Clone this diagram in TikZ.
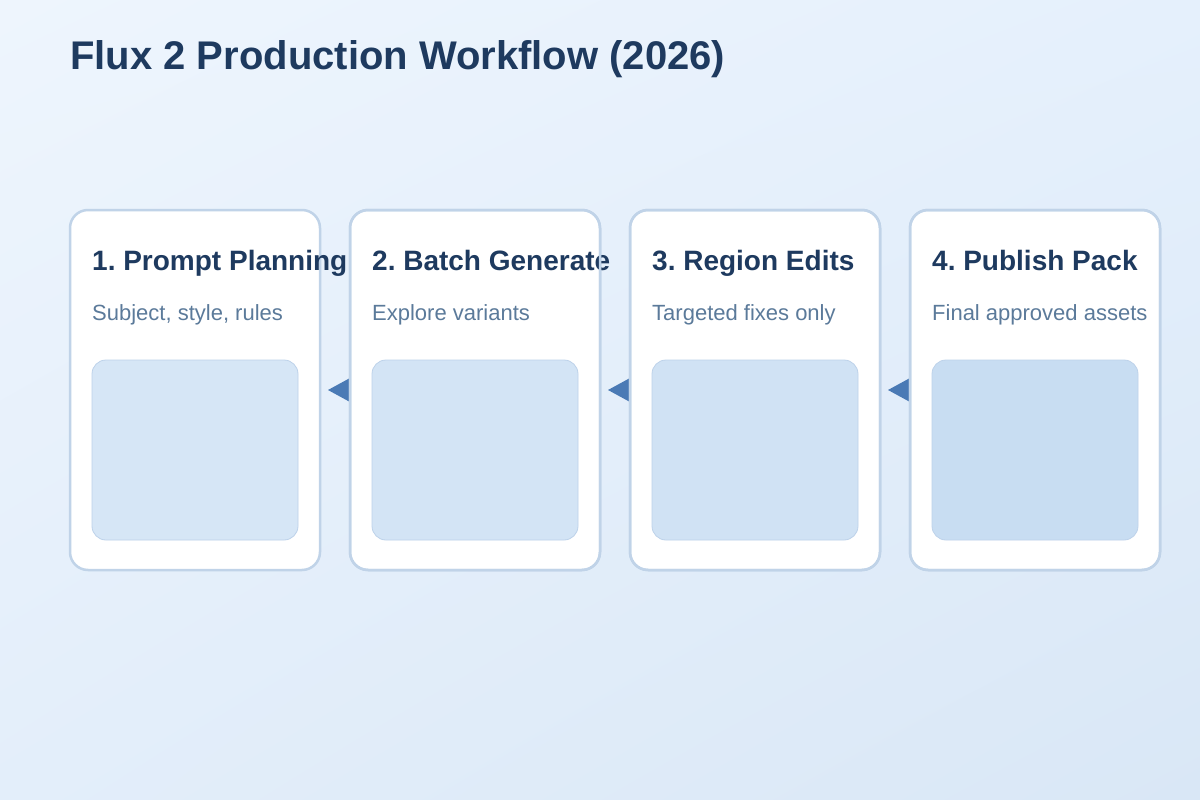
\documentclass[tikz,border=0pt]{standalone}
\usepackage{fontspec}
\setmainfont{Liberation Sans}
\frenchspacing
\usetikzlibrary{calc,shadings}
\definecolor{titlec}{HTML}{1E3A5F}
\definecolor{subc}{HTML}{5B7A9A}
\definecolor{cardbd}{HTML}{C0D3E8}
\definecolor{innerbd}{HTML}{BDD2EA}
\definecolor{innerA}{HTML}{D6E6F6}
\definecolor{innerB}{HTML}{D3E4F5}
\definecolor{innerC}{HTML}{D0E2F4}
\definecolor{innerD}{HTML}{C8DDF2}
\definecolor{arrowc}{HTML}{4A7AB5}
\definecolor{bgtl}{HTML}{EEF5FD}
\definecolor{bgtr}{HTML}{E5F0FC}
\definecolor{bgbl}{HTML}{E3EEFA}
\definecolor{bgbr}{HTML}{D9E7F6}
\tikzset{
  card/.style={draw=cardbd, line width=2.5pt, fill=white, rounded corners=18pt,
    minimum width=250pt, minimum height=360pt, inner sep=0pt, outer sep=0pt, anchor=north west},
  inner/.style={draw=innerbd, line width=0.8pt, rounded corners=14pt,
    minimum width=206pt, minimum height=180pt, inner sep=0pt, outer sep=0pt, anchor=north west},
  heading/.style={anchor=base west, inner sep=0pt, text=titlec, font=\fontsize{28pt}{32pt}\selectfont\bfseries},
  subtext/.style={anchor=base west, inner sep=0pt, text=subc, font=\fontsize{22pt}{26pt}\selectfont},
  tip/.style={fill=arrowc, draw=none}
}
\begin{document}
\begin{tikzpicture}[x=1pt,y=-1pt]
\useasboundingbox (0,0) rectangle (1200,800);
\shade[upper left=bgtl, upper right=bgtr, lower left=bgbl, lower right=bgbr] (0,0) rectangle (1200,800);
\node[anchor=base west, inner sep=0pt, text=titlec, font=\fontsize{40pt}{46pt}\selectfont\bfseries] (title) at (70,70) {Flux 2 Production Workflow (2026)};
% cards
\node[card] (c1) at (70,210) {};
\node[inner, fill=innerA] (i1) at (92,360) {};
\node[heading] (h1) at (92,270) {1. Prompt Planning};
\node[subtext] (s1) at (92,320) {Subject, style, rules};
\path[tip] ($(c1.east)+(8,0)$) -- ($(c1.east)+(30,-12)$) -- ($(c1.east)+(30,12)$) -- cycle;
\node[card] (c2) at (350,210) {};
\node[inner, fill=innerB] (i2) at (372,360) {};
\node[heading] (h2) at (372,270) {2. Batch Generate};
\node[subtext] (s2) at (372,320) {Explore variants};
\path[tip] ($(c2.east)+(8,0)$) -- ($(c2.east)+(30,-12)$) -- ($(c2.east)+(30,12)$) -- cycle;
\node[card] (c3) at (630,210) {};
\node[inner, fill=innerC] (i3) at (652,360) {};
\node[heading] (h3) at (652,270) {3. Region Edits};
\node[subtext] (s3) at (652,320) {Targeted fixes only};
\path[tip] ($(c3.east)+(8,0)$) -- ($(c3.east)+(30,-12)$) -- ($(c3.east)+(30,12)$) -- cycle;
\node[card] (c4) at (910,210) {};
\node[inner, fill=innerD] (i4) at (932,360) {};
\node[heading] (h4) at (932,270) {4. Publish Pack};
\node[subtext] (s4) at (932,320) {Final approved assets};
% redraw card outlines over tips
\foreach \c in {c2,c3,c4}{
  \draw[cardbd, line width=2.5pt, rounded corners=18pt] (\c.north west) rectangle (\c.south east);
}
\end{tikzpicture}
\end{document}
